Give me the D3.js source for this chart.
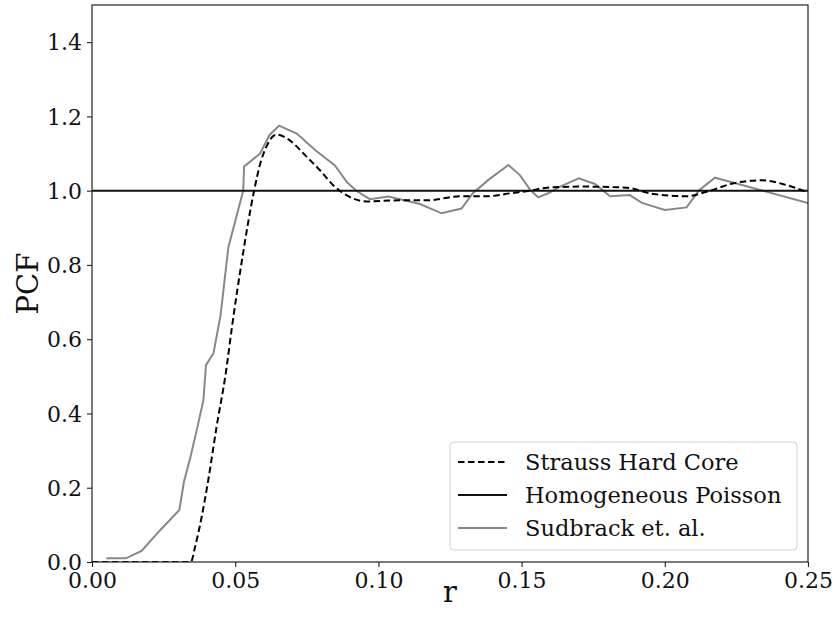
<!DOCTYPE html>
<html>
<head>
<meta charset="utf-8">
<script src="https://cdn.jsdelivr.net/npm/d3@7"></script>
<style>
  html, body { margin: 0; padding: 0; background: #fff; }
  svg { display: block; }
</style>
</head>
<body>
<svg id="chart" width="835" height="624"></svg>
<script>
// ---- data ----
const sudbrackR = [0.005, 0.0118, 0.0173, 0.0237, 0.0305, 0.0321, 0.0343, 0.0370, 0.0389, 0.0398, 0.0424, 0.0449, 0.0476, 0.0528, 0.0531, 0.0587, 0.0620, 0.0653, 0.0715, 0.0780, 0.0848, 0.0890, 0.0924, 0.0970, 0.1035, 0.1090, 0.1145, 0.1221, 0.1290, 0.1330, 0.1384, 0.1454, 0.1494, 0.1530, 0.1558, 0.1593, 0.1634, 0.1700, 0.1756, 0.1809, 0.1878, 0.1920, 0.2000, 0.2076, 0.2120, 0.2175, 0.2500];
const sudbrackPCF = [0.01, 0.01, 0.03, 0.085, 0.14, 0.216, 0.28, 0.37, 0.436, 0.530, 0.562, 0.665, 0.847, 1.0, 1.065, 1.10, 1.15, 1.175, 1.154, 1.109, 1.068, 1.023, 0.999, 0.977, 0.984, 0.974, 0.964, 0.939, 0.952, 0.993, 1.029, 1.069, 1.042, 1.002, 0.982, 0.993, 1.011, 1.033, 1.018, 0.985, 0.988, 0.967, 0.948, 0.955, 1.001, 1.035, 0.967];

const straussR = [0.0, 0.0345, 0.036, 0.0383, 0.0406, 0.0435, 0.0467, 0.0490, 0.0523, 0.0566, 0.059, 0.061, 0.063, 0.0645, 0.068, 0.075, 0.0796, 0.0843, 0.089, 0.0959, 0.1075, 0.117, 0.1285, 0.1378, 0.147, 0.153, 0.1588, 0.1704, 0.1867, 0.196, 0.2076, 0.2146, 0.224, 0.2338, 0.2425, 0.25];
const straussPCF = [0.0, 0.0, 0.041, 0.122, 0.221, 0.364, 0.508, 0.64, 0.81, 1.0, 1.08, 1.12, 1.145, 1.151, 1.141, 1.091, 1.055, 1.014, 0.987, 0.971, 0.974, 0.974, 0.985, 0.985, 0.994, 1.0, 1.008, 1.011, 1.008, 0.991, 0.985, 0.997, 1.02, 1.028, 1.015, 0.995];

const poissonR = [0.0, 0.25];
const poissonPCF = [1.0, 1.0];

const xTicks = [0.00, 0.05, 0.10, 0.15, 0.20, 0.25];
const yTicks = [0.0, 0.2, 0.4, 0.6, 0.8, 1.0, 1.2, 1.4];
const legendLabels = ["Strauss Hard Core", "Homogeneous Poisson", "Sudbrack et. al."];

// ---- layout ----
const svg = d3.select("#chart");
const L = 92, R = 808, T = 5, B = 562;
const font = "'DejaVu Serif', serif";

const x = d3.scaleLinear().domain([0, 0.25]).range([L, R]);
const y = d3.scaleLinear().domain([0, 1.5]).range([B, T]);

svg.append("defs").append("clipPath").attr("id", "clip")
  .append("rect").attr("x", L).attr("y", T).attr("width", R - L).attr("height", B - T);

const line = d3.line().x(d => x(d[0])).y(d => y(d[1]));
const plot = svg.append("g").attr("clip-path", "url(#clip)");

// Sudbrack (gray)
plot.append("path")
  .datum(sudbrackR.map((r, i) => [r, sudbrackPCF[i]]))
  .attr("d", line)
  .attr("fill", "none").attr("stroke", "#888").attr("stroke-width", 2);

// Poisson (black solid)
plot.append("path")
  .datum(poissonR.map((r, i) => [r, poissonPCF[i]]))
  .attr("d", line)
  .attr("fill", "none").attr("stroke", "#111").attr("stroke-width", 2);

// Strauss (dashed)
plot.append("path")
  .datum(straussR.map((r, i) => [r, straussPCF[i]]))
  .attr("d", d3.line().x(d => x(d[0])).y(d => y(d[1])).curve(d3.curveMonotoneX))
  .attr("fill", "none").attr("stroke", "#000").attr("stroke-width", 2)
  .attr("stroke-dasharray", "6.5,3.5");

// axes
const xAxis = svg.append("g").attr("transform", `translate(0,${B})`)
  .call(d3.axisBottom(x).tickValues(xTicks).tickFormat(d3.format(".2f")).tickSize(5).tickPadding(5));
const yAxis = svg.append("g").attr("transform", `translate(${L},0)`)
  .call(d3.axisLeft(y).tickValues(yTicks).tickFormat(d3.format(".1f")).tickSize(5).tickPadding(5));
[xAxis, yAxis].forEach(a => {
  a.select(".domain").remove();
  a.selectAll("line").attr("stroke", "#222").attr("stroke-width", 1.1);
  a.selectAll("text").attr("font-family", font).attr("font-size", 22).attr("fill", "#111");
});
yAxis.selectAll("text").attr("dy", "0.35em");

// frame
svg.append("rect").attr("x", L).attr("y", T).attr("width", R - L).attr("height", B - T)
  .attr("fill", "none").attr("stroke", "#222").attr("stroke-width", 1.2);

// axis labels
svg.append("text").attr("x", (L + R) / 2).attr("y", 602)
  .attr("text-anchor", "middle").attr("font-family", font).attr("font-size", 29).attr("fill", "#111")
  .text("r");
svg.append("text").attr("transform", `translate(38,${(T + B) / 2}) rotate(-90)`)
  .attr("text-anchor", "middle").attr("font-family", font).attr("font-size", 29).attr("fill", "#111")
  .text("PCF");

// legend
const lg = svg.append("g");
lg.append("rect").attr("x", 450).attr("y", 442).attr("width", 347).attr("height", 108)
  .attr("rx", 4).attr("fill", "#fff").attr("fill-opacity", 0.8)
  .attr("stroke", "#d0d0d0").attr("stroke-width", 1);
const styles = [
  { stroke: "#000", dash: "6.5,3.5" },
  { stroke: "#111", dash: null },
  { stroke: "#888", dash: null }
];
const rowY = [462, 495, 528];
legendLabels.forEach((lab, i) => {
  lg.append("line").attr("x1", 458).attr("x2", 507).attr("y1", rowY[i]).attr("y2", rowY[i])
    .attr("stroke", styles[i].stroke).attr("stroke-width", 2)
    .attr("stroke-dasharray", styles[i].dash);
  lg.append("text").attr("x", 525).attr("y", rowY[i] + 8)
    .attr("font-family", font).attr("font-size", 22.5).attr("fill", "#111").text(lab);
});
</script>
</body>
</html>
